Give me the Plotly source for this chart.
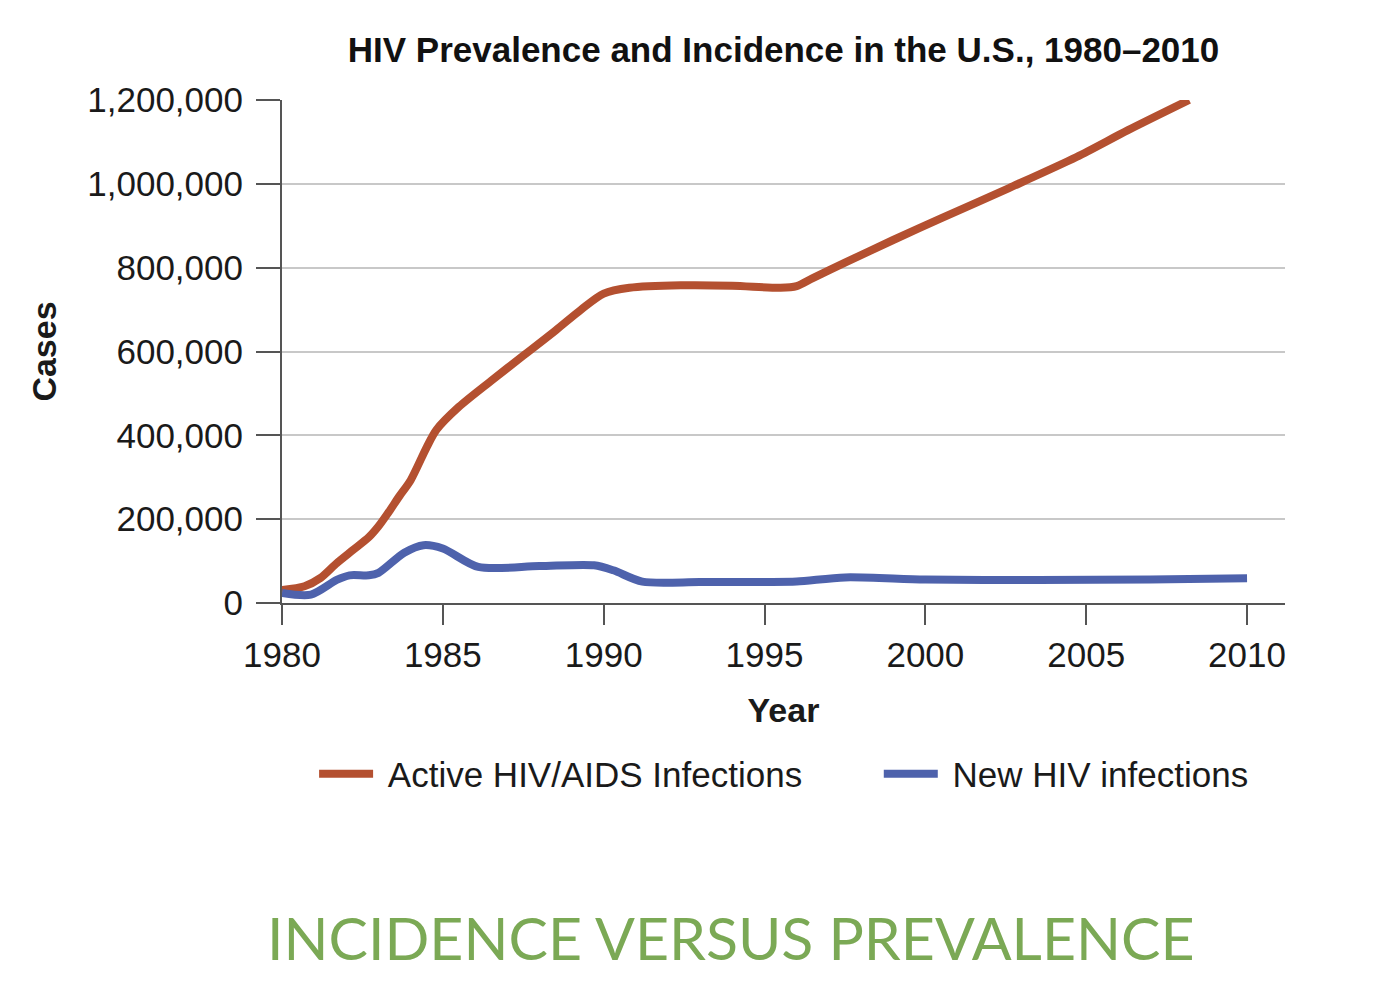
import plotly.graph_objects as go

# Data
years_active = [1980, 1980.7, 1981.2, 1981.7, 1982.2, 1982.7, 1983.0, 1983.3, 1983.65, 1984.0,
                1984.5, 1984.8, 1985.5, 1986.5, 1987.5, 1988.5, 1989.3, 1990, 1990.8, 1992.4,
                1994, 1995.5, 1996, 1996.5, 1997.5, 1999, 2000.5, 2002.6, 2004.7, 2006.3, 2008.2]
active = [31000, 40000, 60000, 95000, 126000, 157000, 183000, 215000, 255000, 293000,
          372000, 413000, 468000, 530000, 590000, 650000, 700000, 738000, 752000, 758000,
          757000, 752000, 756000, 775000, 812000, 866000, 918000, 990000, 1064000, 1128000, 1200000]

years_new = [1980, 1980.9, 1981.7, 1982.1, 1982.7, 1983.0, 1983.8, 1984.4, 1985, 1986.1, 1988,
             1989.7, 1990.3, 1991.2, 1993, 1995, 1996, 1997.5, 2000, 2003.5, 2007, 2010]
new = [24000, 20000, 55000, 66000, 66000, 72000, 120000, 138000, 130000, 86000, 88000,
       90000, 78000, 51000, 50000, 50000, 51000, 61000, 56000, 55000, 56000, 59000]

x_ticks = [1980, 1985, 1990, 1995, 2000, 2005, 2010]
y_ticks = [0, 200000, 400000, 600000, 800000, 1000000, 1200000]
y_tick_labels = ["0", "200,000", "400,000", "600,000", "800,000", "1,000,000", "1,200,000"]

RED = "rgb(180,80,48)"
BLUE = "rgb(78,98,172)"
FONT = "Liberation Sans, Arial, sans-serif"
GAP = "\u00a0"

fig = go.Figure()
fig.add_trace(go.Scatter(x=years_active, y=active, mode="lines",
                         name=GAP + "Active HIV/AIDS Infections",
                         line=dict(color=RED, width=8, shape="spline", smoothing=0.8),
                         legend="legend"))
fig.add_trace(go.Scatter(x=years_new, y=new, mode="lines",
                         name=GAP + "New HIV infections",
                         line=dict(color=BLUE, width=8, shape="spline", smoothing=0.8),
                         legend="legend2"))

legend_common = dict(orientation="h", xanchor="left", y=-0.34, yanchor="middle",
                     font=dict(size=35), itemwidth=54, bgcolor="rgba(0,0,0,0)")

fig.update_layout(
    width=1380, height=985,
    margin=dict(l=274, r=103, t=92, b=390, autoexpand=False),
    paper_bgcolor="white", plot_bgcolor="white",
    font=dict(family=FONT, color="#1a1a1a", size=35),
    title=dict(text="<b>HIV Prevalence and Incidence in the U.S., 1980–2010</b>",
               xref="paper", x=0.5, xanchor="center", y=1 - 42 / 985, yanchor="middle",
               font=dict(size=35, color="#111")),
    showlegend=True,
    legend=dict(x=0.032, **legend_common),
    legend2=dict(x=0.595, **legend_common),
)
fig.update_xaxes(range=[1980, 2011.18], tickvals=x_ticks, ticktext=[str(t) for t in x_ticks],
                 showgrid=False, showline=True, linecolor="#555", linewidth=2,
                 ticks="outside", ticklen=20, tickcolor="#555", tickwidth=2,
                 tickfont=dict(size=35), zeroline=False,
                 title=dict(text="<b>Year</b>", font=dict(size=34), standoff=25))
fig.update_yaxes(range=[0, 1200000], tickvals=y_ticks, ticktext=y_tick_labels,
                 showgrid=True, gridcolor="#c8c8c8", gridwidth=2,
                 showline=True, linecolor="#555", linewidth=2,
                 ticks="outside", ticklen=24, tickcolor="#555", tickwidth=2,
                 tickfont=dict(size=35), ticklabelstandoff=6, zeroline=False,
                 title=dict(text="<b>Cases</b>", font=dict(size=34), standoff=20))

fig.add_annotation(text="INCIDENCE VERSUS PREVALENCE", xref="paper", yref="paper",
                   x=(723 - 274) / 1003, xanchor="center", y=(595 - 929) / 503, yanchor="middle",
                   showarrow=False, font=dict(family="Lato, sans-serif", size=59, color="#7BA955"))

fig.write_html("out.html")
